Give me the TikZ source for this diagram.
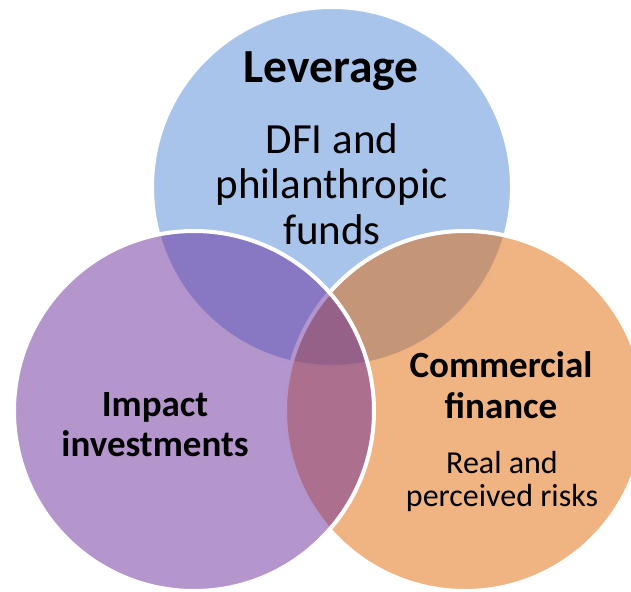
\documentclass[tikz,border=0pt]{standalone}
\usepackage{fontspec}
\setmainfont{Carlito}
\definecolor{levblue}{RGB}{83,137,215}
\definecolor{comorange}{RGB}{225,105,5}
\definecolor{imppurple}{RGB}{105,45,155}
\begin{document}
\begin{tikzpicture}[x=1pt,y=-1pt,
  venn/.style={fill opacity=0.5, draw=white, line width=4pt},
  head/.style={inner sep=0pt, align=center},
  body/.style={inner sep=0pt, align=center}]
\useasboundingbox (0,0) rectangle (631,591);
\clip (0,0) rectangle (631,591);
% the three overlapping sets, drawn back to front
\path[venn, fill=levblue]   (332,187) circle[radius=180];
\path[venn, fill=comorange] (465,411) circle[radius=180];
\path[venn, fill=imppurple] (194,411) circle[radius=180];
% labels
\node[head, font=\fontsize{47.5}{55}\selectfont\bfseries, anchor=base] (lev) at (331,83) {Leverage};
\node[body, font=\fontsize{43}{45.5}\selectfont] (dfi) at (332,184) {DFI and\\philanthropic\\funds};
\node[head, font=\fontsize{37}{41}\selectfont\bfseries] (com) at (501,385) {Commercial\\finance};
\node[body, font=\fontsize{32}{33}\selectfont] (risk) at (502,481) {Real and\\perceived risks};
\node[head, font=\fontsize{37}{40}\selectfont\bfseries] (imp) at (155,425) {Impact\\investments};
\end{tikzpicture}
\end{document}
